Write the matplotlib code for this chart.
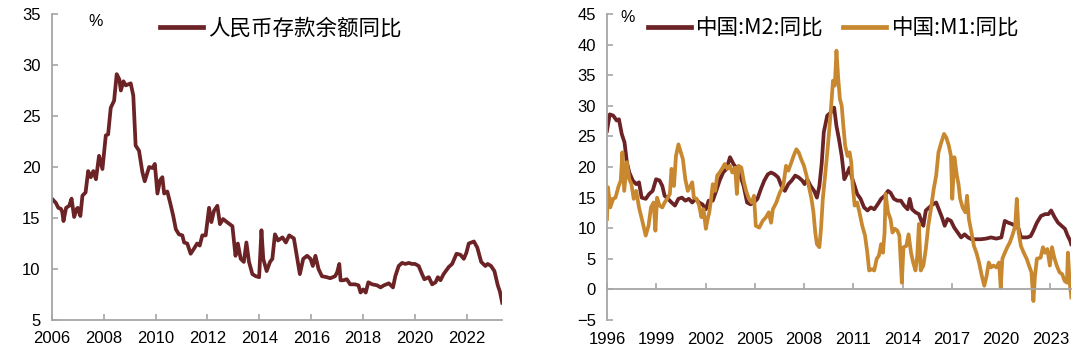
import matplotlib
matplotlib.use("Agg")
import matplotlib.pyplot as plt

# Deposit growth (left panel): decimal year, % yoy
dep_year = [2006.0, 2006.15, 2006.25, 2006.35, 2006.4, 2006.45, 2006.55, 2006.67, 2006.76, 2006.86,
            2006.96, 2007.0, 2007.1, 2007.18, 2007.3, 2007.4, 2007.5, 2007.6, 2007.7, 2007.82,
            2007.95, 2008.08, 2008.17, 2008.27, 2008.4, 2008.5, 2008.6, 2008.66, 2008.76, 2008.85,
            2009.04, 2009.14, 2009.23, 2009.36, 2009.49, 2009.58, 2009.75, 2009.88, 2009.97, 2010.07,
            2010.17, 2010.26, 2010.33, 2010.45, 2010.56, 2010.68, 2010.78, 2010.9, 2011.03, 2011.1,
            2011.22, 2011.35, 2011.48, 2011.6, 2011.7, 2011.8, 2011.93, 2012.06, 2012.15, 2012.25,
            2012.38, 2012.48, 2012.6, 2012.75, 2012.96, 2013.08, 2013.17, 2013.28, 2013.4, 2013.5,
            2013.6, 2013.73, 2013.86, 2013.99, 2014.08, 2014.15, 2014.28, 2014.41, 2014.5, 2014.6,
            2014.72, 2014.89, 2015.02, 2015.15, 2015.33, 2015.44, 2015.56, 2015.69, 2015.84, 2015.97,
            2016.06, 2016.16, 2016.28, 2016.41, 2016.6, 2016.73, 2016.92, 2017.0, 2017.08, 2017.13,
            2017.24, 2017.37, 2017.5, 2017.69, 2017.82, 2017.9, 2018.0, 2018.1, 2018.2, 2018.35,
            2018.54, 2018.67, 2018.8, 2018.99, 2019.15, 2019.24, 2019.37, 2019.5, 2019.63, 2019.76,
            2019.88, 2020.0, 2020.14, 2020.27, 2020.36, 2020.53, 2020.66, 2020.79, 2020.88, 2020.98,
            2021.1, 2021.3, 2021.43, 2021.6, 2021.75, 2021.88, 2021.98, 2022.07, 2022.27, 2022.4,
            2022.55, 2022.71, 2022.8, 2022.93, 2023.06, 2023.19, 2023.27, 2023.36]
dep_yoy = [16.9, 16.5, 16.0, 15.9, 15.6, 14.7, 16.0, 16.2, 16.9, 15.1,
           15.9, 16.0, 15.2, 17.2, 17.5, 19.6, 19.0, 19.6, 18.8, 21.1,
           19.8, 23.1, 23.2, 25.8, 26.5, 29.1, 28.6, 27.5, 28.4, 28.0,
           28.2, 27.0, 22.1, 21.6, 19.5, 18.6, 20.0, 19.9, 20.3, 17.4,
           18.7, 19.0, 17.4, 17.6, 16.5, 15.2, 13.9, 13.4, 13.3, 12.6,
           12.5, 11.5, 12.0, 12.5, 12.3, 13.3, 13.3, 16.0, 14.6, 15.7,
           16.2, 14.4, 14.9, 14.6, 14.2, 11.3, 12.5, 11.0, 10.7, 12.6,
           10.7, 9.5, 9.3, 9.2, 13.8, 11.0, 9.8, 10.7, 11.0, 13.4,
           12.8, 13.1, 12.6, 13.3, 13.0, 11.3, 9.5, 11.0, 11.3, 11.0,
           10.3, 11.3, 10.0, 9.3, 9.2, 9.1, 9.3, 9.7, 10.5, 8.9,
           8.9, 9.0, 8.5, 8.5, 8.4, 7.7, 8.0, 7.7, 8.7, 8.5,
           8.4, 8.2, 8.4, 8.6, 8.2, 9.3, 10.3, 10.6, 10.5, 10.6,
           10.5, 10.5, 10.3, 9.5, 9.0, 9.2, 8.5, 8.7, 9.2, 8.9,
           9.5, 10.2, 10.5, 11.5, 11.4, 11.0, 11.6, 12.5, 12.7, 12.1,
           10.7, 10.3, 10.5, 10.3, 9.8, 8.4, 7.8, 6.7]

# M2 yoy (right panel)
m2_year = [1996.0, 1996.17, 1996.38, 1996.59, 1996.73, 1996.9, 1997.07, 1997.21, 1997.36, 1997.57,
           1997.78, 1997.95, 1998.11, 1998.36, 1998.57, 1998.78, 1998.99, 1999.2, 1999.37, 1999.51,
           1999.72, 1999.93, 2000.14, 2000.35, 2000.56, 2000.77, 2000.98, 2001.19, 2001.4, 2001.61,
           2001.81, 2002.02, 2002.19, 2002.44, 2002.65, 2002.86, 2003.07, 2003.28, 2003.49, 2003.7,
           2003.91, 2004.12, 2004.32, 2004.53, 2004.74, 2004.95, 2005.16, 2005.37, 2005.58, 2005.79,
           2005.99, 2006.21, 2006.42, 2006.62, 2006.83, 2007.04, 2007.25, 2007.46, 2007.67, 2007.88,
           2008.03, 2008.19, 2008.4, 2008.61, 2008.78, 2008.93, 2009.07, 2009.2, 2009.41, 2009.62,
           2009.83, 2009.97, 2010.12, 2010.29, 2010.45, 2010.6, 2010.77, 2010.91, 2011.08, 2011.23,
           2011.44, 2011.65, 2011.86, 2012.06, 2012.27, 2012.48, 2012.69, 2012.9, 2013.11, 2013.26,
           2013.47, 2013.68, 2013.89, 2014.09, 2014.3, 2014.43, 2014.57, 2014.78, 2014.99, 2015.14,
           2015.26, 2015.41, 2015.62, 2015.83, 2016.04, 2016.2, 2016.39, 2016.56, 2016.73, 2016.94,
           2017.14, 2017.35, 2017.56, 2017.77, 2017.98, 2018.19, 2018.44, 2018.76, 2019.07, 2019.38,
           2019.7, 2020.01, 2020.22, 2020.43, 2020.64, 2020.85, 2021.06, 2021.2, 2021.37, 2021.58,
           2021.79, 2021.96, 2022.17, 2022.42, 2022.67, 2022.87, 2023.04, 2023.25, 2023.46, 2023.67,
           2023.88, 2024.04, 2024.19, 2024.26]
m2_yoy = [25.9, 28.6, 28.4, 27.6, 27.8, 25.4, 24.0, 20.8, 19.1, 17.8,
          17.2, 17.5, 15.0, 14.8, 15.6, 16.1, 18.0, 17.8, 16.9, 15.3,
          14.8, 14.2, 13.7, 14.8, 15.0, 14.5, 14.8, 14.2, 14.8, 14.2,
          13.9, 13.1, 14.5, 14.5, 16.1, 17.8, 19.1, 19.7, 21.6, 20.5,
          19.7, 18.6, 16.9, 14.2, 13.9, 14.2, 14.8, 16.4, 17.8, 18.8,
          19.1, 18.8, 18.3, 16.9, 16.1, 17.2, 17.8, 18.6, 18.3, 17.8,
          17.2, 18.0, 16.9, 16.1, 15.0, 16.9, 20.5, 25.7, 28.4, 28.9,
          29.7, 26.7, 24.6, 21.8, 18.0, 18.8, 19.9, 18.3, 16.9, 15.6,
          14.8, 13.4, 12.9, 13.4, 13.1, 13.9, 14.8, 15.3, 16.1, 15.8,
          14.8, 14.5, 14.5, 13.7, 13.1, 14.8, 13.1, 12.6, 12.3, 11.2,
          10.4, 12.9, 13.4, 13.9, 14.2, 13.1, 11.8, 10.4, 11.5, 11.2,
          10.1, 9.3, 8.5, 9.0, 8.5, 8.2, 8.2, 8.2, 8.3, 8.5,
          8.3, 8.5, 11.2, 10.9, 10.7, 10.4, 9.9, 8.5, 8.5, 8.5,
          8.7, 9.6, 10.9, 12.0, 12.3, 12.3, 12.9, 11.8, 10.9, 10.4,
          9.9, 8.8, 8.0, 7.4]

# M1 yoy (right panel)
m1_year = [1996.0, 1996.06, 1996.2, 1996.38, 1996.52, 1996.69, 1996.84, 1996.94, 1997.05, 1997.21,
           1997.36, 1997.49, 1997.63, 1997.78, 1997.95, 1998.15, 1998.36, 1998.53, 1998.68, 1998.84,
           1998.95, 1999.05, 1999.2, 1999.37, 1999.51, 1999.66, 1999.83, 1999.93, 2000.08, 2000.2,
           2000.35, 2000.5, 2000.62, 2000.77, 2000.92, 2001.08, 2001.19, 2001.29, 2001.46, 2001.61,
           2001.75, 2001.88, 2002.02, 2002.13, 2002.23, 2002.34, 2002.44, 2002.59, 2002.71, 2002.86,
           2003.0, 2003.17, 2003.34, 2003.49, 2003.63, 2003.8, 2003.91, 2004.01, 2004.18, 2004.32,
           2004.47, 2004.64, 2004.81, 2004.95, 2005.06, 2005.27, 2005.48, 2005.68, 2005.85, 2005.99,
           2006.1, 2006.31, 2006.52, 2006.73, 2006.9, 2007.04, 2007.19, 2007.36, 2007.53, 2007.67,
           2007.82, 2007.99, 2008.15, 2008.3, 2008.45, 2008.57, 2008.68, 2008.78, 2008.93, 2009.03,
           2009.14, 2009.28, 2009.45, 2009.62, 2009.76, 2009.87, 2009.97, 2010.08, 2010.18, 2010.29,
           2010.39, 2010.5, 2010.64, 2010.77, 2010.87, 2010.96, 2011.08, 2011.23, 2011.37, 2011.54,
           2011.71, 2011.85, 2011.96, 2012.13, 2012.27, 2012.42, 2012.55, 2012.69, 2012.8, 2012.9,
           2012.96, 2013.11, 2013.26, 2013.38, 2013.53, 2013.68, 2013.8, 2013.95, 2014.05, 2014.22,
           2014.36, 2014.51, 2014.64, 2014.78, 2014.89, 2014.99, 2015.1, 2015.26, 2015.41, 2015.56,
           2015.72, 2015.89, 2016.04, 2016.18, 2016.35, 2016.52, 2016.66, 2016.81, 2016.94, 2017.02,
           2017.15, 2017.3, 2017.4, 2017.5, 2017.65, 2017.82, 2017.92, 2018.03, 2018.19, 2018.34,
           2018.49, 2018.65, 2018.82, 2018.97, 2019.11, 2019.24, 2019.38, 2019.53, 2019.7, 2019.87,
           2019.97, 2020.07, 2020.22, 2020.37, 2020.53, 2020.7, 2020.85, 2020.95, 2021.06, 2021.2,
           2021.37, 2021.55, 2021.69, 2021.84, 2021.96, 2022.05, 2022.17, 2022.4, 2022.54, 2022.67,
           2022.81, 2022.96, 2023.09, 2023.23, 2023.38, 2023.55, 2023.71, 2023.86, 2024.0, 2024.06,
           2024.17, 2024.27]
m1_yoy = [11.5, 16.7, 13.4, 14.8, 15.0, 16.7, 17.8, 22.4, 16.1, 20.8,
          18.0, 17.2, 14.8, 16.1, 13.4, 11.2, 8.8, 10.4, 13.4, 14.2,
          9.6, 15.0, 13.7, 13.4, 14.2, 14.8, 15.6, 19.7, 16.9, 21.8,
          23.7, 22.4, 21.3, 18.0, 16.1, 16.9, 17.5, 15.0, 14.8, 13.7,
          11.8, 13.1, 9.9, 11.5, 12.6, 14.8, 17.2, 16.1, 18.6, 19.1,
          19.7, 20.5, 19.7, 20.2, 19.1, 19.9, 15.6, 20.2, 19.9, 17.8,
          16.1, 14.8, 14.2, 15.3, 10.4, 10.1, 11.2, 11.8, 12.6, 10.9,
          13.1, 14.2, 15.8, 16.9, 20.2, 19.4, 20.5, 21.8, 22.9, 22.4,
          21.3, 20.2, 18.6, 16.7, 14.8, 12.6, 9.3, 7.4, 6.9, 9.9,
          14.8, 18.6, 23.5, 28.9, 34.1, 33.3, 39.0, 34.4, 31.1, 30.0,
          26.7, 23.5, 21.8, 22.4, 20.8, 16.9, 13.7, 14.2, 12.6, 10.4,
          8.8, 6.0, 3.1, 3.3, 3.1, 5.0, 5.5, 7.4, 6.0, 9.3,
          15.6, 12.6, 11.5, 9.3, 9.9, 9.6, 8.8, 1.1, 6.9, 7.1,
          9.0, 6.0, 4.4, 3.1, 5.5, 10.7, 3.1, 3.9, 6.6, 10.4,
          13.1, 16.4, 18.6, 22.4, 24.0, 25.4, 24.8, 23.5, 21.8, 14.8,
          21.6, 18.6, 17.2, 14.8, 13.4, 12.6, 15.3, 11.5, 9.3, 7.1,
          6.0, 4.4, 2.2, 0.6, 2.2, 4.4, 3.6, 3.9, 3.6, 4.4,
          0.3, 5.0, 6.0, 6.9, 7.7, 9.0, 10.4, 14.8, 9.3, 7.1,
          6.0, 5.0, 3.9, 2.8, -1.9, 2.0, 5.0, 5.2, 6.9, 6.0,
          6.6, 3.9, 6.9, 5.2, 3.9, 2.8, 2.5, 1.4, 1.1, 6.0,
          1.1, -1.3]

maroon = "#6B2325"
gold = "#C8882F"
spine_gray = "#A6A6A6"

plt.rcParams["font.family"] = ["Liberation Sans", "Noto Sans CJK SC"]
cjk = {"family": "Noto Sans CJK SC", "size": 15.5}

fig = plt.figure(figsize=(10.8, 3.58), dpi=100)
ax1 = fig.add_axes([0.048, 0.106, 0.417, 0.855])
ax2 = fig.add_axes([0.562, 0.106, 0.430, 0.855])


def style_axes(ax):
    for side in ["top", "right"]:
        ax.spines[side].set_visible(False)
    for side in ["left", "bottom"]:
        ax.spines[side].set_color(spine_gray)
        ax.spines[side].set_linewidth(1.3)
    ax.tick_params(direction="in", length=4, width=1.2, color=spine_gray,
                   labelsize=12, labelcolor="black")
    ax.tick_params(axis="y", pad=8)


# Left: deposit growth
ax1.plot(dep_year, dep_yoy, color=maroon, lw=2.7, label="人民币存款余额同比")
ax1.set_xlim(2006, 2023.36)
ax1.set_ylim(5, 35)
ax1.set_xticks(range(2006, 2023, 2))
ax1.set_yticks(range(5, 36, 5))
style_axes(ax1)
ax1.tick_params(axis="x", pad=8)
ax1.text(0.097, 0.975, "%", transform=ax1.transAxes, fontsize=11.5, ha="center", va="center")
ax1.legend(loc="center left", bbox_to_anchor=(0.24, 0.952), frameon=False, prop=cjk,
           handlelength=2.0, handletextpad=0.25, borderpad=0, borderaxespad=0)
for line in ax1.get_legend().get_lines():
    line.set_linewidth(3.4)

# Right: M2 and M1
ax2.plot(m2_year, m2_yoy, color=maroon, lw=2.7, label="中国:M2:同比")
ax2.plot(m1_year, m1_yoy, color=gold, lw=2.7, label="中国:M1:同比")
ax2.set_xlim(1996, 2024.27)
ax2.set_ylim(-5, 45)
ax2.set_xticks(range(1996, 2024, 3))
ax2.set_yticks(range(-5, 46, 5))
style_axes(ax2)
ax2.spines["bottom"].set_position(("data", 0))
ax2.tick_params(axis="x", pad=31)
ax2.text(0.045, 0.99, "%", transform=ax2.transAxes, fontsize=11.5, ha="center", va="center")
ax2.legend(loc="center left", bbox_to_anchor=(0.088, 0.952), ncol=2, frameon=False, prop=cjk,
           handlelength=2.0, handletextpad=0.25, columnspacing=0.9,
           borderpad=0, borderaxespad=0)
for line in ax2.get_legend().get_lines():
    line.set_linewidth(3.4)

fig.savefig("out.png", dpi=100)
